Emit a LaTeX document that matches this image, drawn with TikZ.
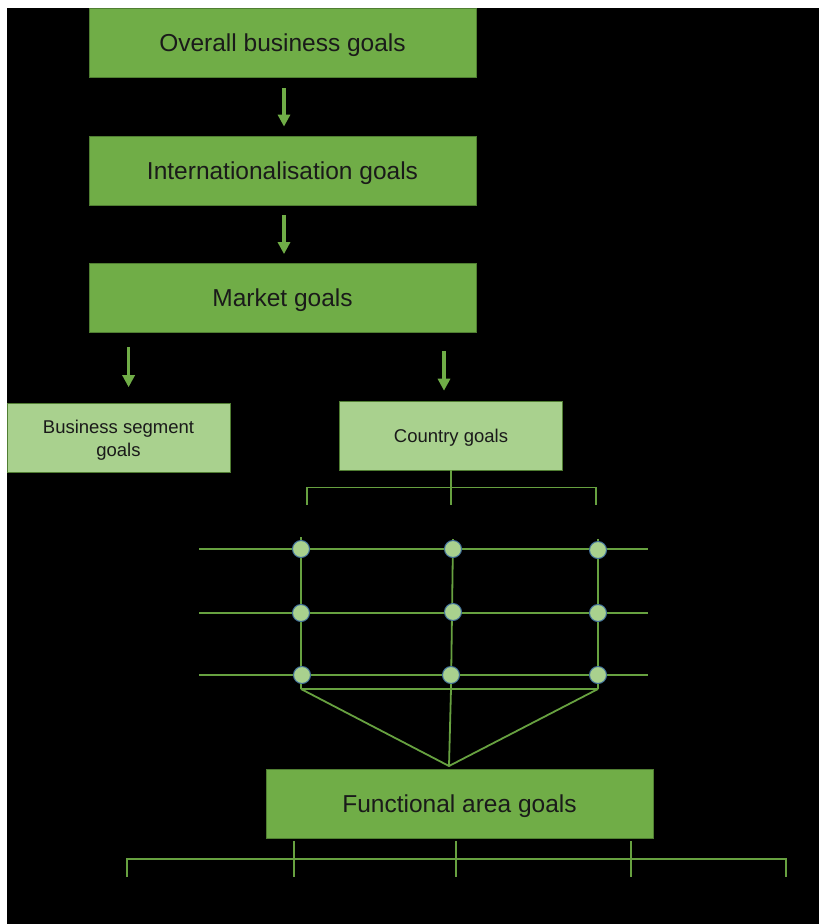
\documentclass[tikz,border=0pt]{standalone}
\usepackage{fontspec}
\setmainfont{Liberation Sans}
\usetikzlibrary{arrows.meta}
\definecolor{dgreen}{HTML}{70AD47}
\definecolor{lgreen}{HTML}{A9D18E}
\definecolor{bgreen}{HTML}{507E32}
\definecolor{lineg}{HTML}{67A140}
\definecolor{dotb}{HTML}{41719C}
\definecolor{txt}{HTML}{1A1A1A}
\tikzset{
  bigbox/.style={fill=dgreen, draw=bgreen, line width=0.8pt, minimum width=387pt, minimum height=69pt, inner sep=0pt, text depth=0pt, text=txt, font=\fontsize{24.5}{29}\selectfont},
  smallbox/.style={fill=lgreen, draw=bgreen, line width=0.6pt, minimum width=223pt, minimum height=69pt, inner sep=0pt, text depth=0pt, text=txt, align=center, font=\fontsize{18.5}{23}\selectfont},
  arr/.style={draw=dgreen, line width=3.2pt, -{Triangle[width=12pt,length=12pt]}},
  gline/.style={draw=lineg, line width=1.8pt},
  dot/.style={circle, fill=lgreen, draw=dotb, line width=1pt, minimum size=17pt, inner sep=0pt}
}
\begin{document}
\begin{tikzpicture}[x=1pt,y=-1pt]
\fill[white] (0,0) rectangle (819,924);
\fill[black] (7,8) rectangle (819,924);
\useasboundingbox (0,0) rectangle (819,924);

% main boxes
\node[bigbox] (ov) at (282.5,42.5) {Overall business goals};
\node[bigbox] (in) at (282.5,170.5) {Internationalisation goals};
\node[bigbox] (mk) at (282.5,298) {Market goals};
\node[smallbox] (bs) at (118.5,438) {Business segment\\goals};
\node[smallbox] (cg) at (451,435.5) {Country goals};
\node[bigbox] (fa) at (459.5,804) {Functional area goals};

% arrows
\draw[arr, shorten <=11pt, shorten >=9pt] ([xshift=1.5pt]ov.south) -- ([xshift=1.5pt]in.north);
\draw[arr, shorten <=10pt, shorten >=9pt] ([xshift=1.5pt]in.south) -- ([xshift=1.5pt]mk.north);
\draw[arr, shorten <=14pt, shorten >=16pt] ([xshift=40pt]mk.south west) -- ([xshift=40pt]mk.south west |- bs.north);
\draw[arr, shorten <=18pt, shorten >=10pt] ([xshift=-7pt]cg.north |- mk.south) -- ([xshift=-7pt]cg.north);

% bracket under country goals
\coordinate (cbl) at (307,505);
\coordinate (cbr) at (596,505);
\coordinate (cbm) at (451,505);
\draw[gline] (cg.south) -- (cbm);
\draw[gline] (cbl) -- (307,487.5) -- (596,487.5) -- (cbr);

% grid coordinates
\coordinate (g11) at (301,549); \coordinate (g12) at (453,549); \coordinate (g13) at (598,550);
\coordinate (g21) at (301,613); \coordinate (g22) at (453,612); \coordinate (g23) at (598,613);
\coordinate (g31) at (302,675); \coordinate (g32) at (451,675); \coordinate (g33) at (598,675);
\coordinate (h1l) at (199,549); \coordinate (h1r) at (648,549);
\coordinate (h2l) at (199,613); \coordinate (h2r) at (648,613);
\coordinate (h3l) at (199,675); \coordinate (h3r) at (648,675);
\coordinate (v1t) at (301,537); \coordinate (v2t) at (453,539); \coordinate (v3t) at (598,539);
\coordinate (b1) at (301,689); \coordinate (b2) at (451,689); \coordinate (b3) at (598,689);
\coordinate (apex) at (449,766);

\draw[gline] (h1l) -- (h1r);
\draw[gline] (h2l) -- (h2r);
\draw[gline] (h3l) -- (h3r);
\draw[gline] (v1t) -- (b1);
\draw[gline] (v2t) -- (b2);
\draw[gline] (v3t) -- (b3);
\draw[gline] (b1) -- (b3);
\draw[gline] (b1) -- (apex) -- (b3);
\draw[gline] (b2) -- (apex);

\foreach \i in {1,2,3}{\foreach \j in {1,2,3}{\node[dot] (d\i\j) at (g\i\j) {};}}

% bottom bracket
\coordinate (f1) at (127,877); \coordinate (f2) at (294,877); \coordinate (f3) at (456,877);
\coordinate (f4) at (631,877); \coordinate (f5) at (786,877);
\draw[gline] (f1) -- (127,859) -- (786,859) -- (f5);
\draw[gline] (294,841) -- (f2);
\draw[gline] (456,841) -- (f3);
\draw[gline] (631,841) -- (f4);
\end{tikzpicture}
\end{document}
